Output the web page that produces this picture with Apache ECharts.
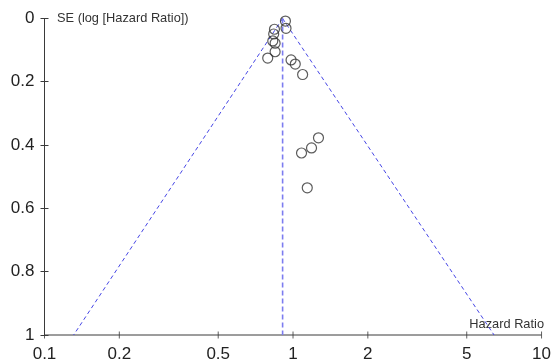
<!DOCTYPE html>
<html>
<head>
<meta charset="utf-8">
<script src="https://cdn.jsdelivr.net/npm/echarts@6/dist/echarts.min.js"></script>
<style>
html,body{margin:0;padding:0;background:#fff;}
#chart{width:554px;height:363px;}
</style>
</head>
<body>
<div id="chart"></div>
<script>
// Study-level data: hazard ratio and SE of log hazard ratio
const hazardRatio = [0.932, 0.937, 0.842, 0.836, 0.829, 0.847, 0.847, 0.791, 0.982, 1.021, 1.093, 1.266, 1.187, 1.082, 1.141];
const seLogHR     = [0.008, 0.031, 0.034, 0.049, 0.071, 0.078, 0.105, 0.125, 0.131, 0.144, 0.177, 0.377, 0.409, 0.425, 0.535];

// Pooled estimate and funnel (pseudo 95% CI) limits
const pooledHR = [0.908, 0.908];
const funnelSE = [0, 1];
const funnelLower = [0.908, 0.131];
const funnelUpper = [0.908, 6.44];

// Tick labels
const xTicks = [0.1, 0.2, 0.5, 1, 2, 5, 10];
const yTicks = [0, 0.2, 0.4, 0.6, 0.8, 1];
const xRange = [0.1, 10];
const yRange = [0, 1];

const axisColor = '#3a3a3a';
const labelColor = '#222';
const fontFam = 'Liberation Sans, Arial, sans-serif';

const chart = echarts.init(document.getElementById('chart'), null, {renderer: 'canvas'});

function pairs(xs, ys) { return xs.map((x, i) => [x, ys[i]]); }

const gridLeft = 44.5;

chart.setOption({
  animation: false,
  backgroundColor: '#fff',
  grid: {left: gridLeft, right: 10.5, top: 18.5, bottom: 26.5, containLabel: false},
  xAxis: {
    type: 'log', logBase: 10, min: xRange[0], max: xRange[1], position: 'bottom',
    splitLine: {show: false}, minorTick: {show: false},
    axisLine: {show: false},
    axisTick: {show: false},
    axisLabel: {show: true, customValues: xTicks, color: labelColor, fontSize: 17, fontFamily: fontFam, margin: 11,
      formatter: v => String(v)}
  },
  yAxis: {
    type: 'value', min: yRange[0], max: yRange[1], interval: 0.2, inverse: true, position: 'left',
    splitLine: {show: false},
    axisLine: {show: false},
    axisTick: {show: false},
    axisLabel: {show: true, color: labelColor, fontSize: 17, fontFamily: fontFam, margin: 10,
      formatter: v => String(+(+v).toFixed(1))}
  },
  series: [
    // x axis line
    {type: 'line', data: [[xRange[0], yRange[1]], [xRange[1], yRange[1]]], symbol: 'none', clip: false, silent: true,
      lineStyle: {color: axisColor, width: 1}, z: 1},
    // crossing x tick marks
    {type: 'scatter', data: xTicks.map(v => [v, yRange[1]]), symbol: 'rect', symbolSize: [1, 7], clip: false, silent: true,
      itemStyle: {color: axisColor}, z: 1},
    // funnel
    {type: 'line', data: pairs(funnelLower, funnelSE), symbol: 'none', clip: false,
      lineStyle: {color: '#4646e6', width: 1, type: [4, 3]}, silent: true, z: 2},
    {type: 'line', data: pairs(funnelUpper, funnelSE), symbol: 'none', clip: false,
      lineStyle: {color: '#4646e6', width: 1, type: [4, 3]}, silent: true, z: 2},
    {type: 'line', data: pairs(pooledHR, funnelSE), symbol: 'none', clip: false,
      lineStyle: {color: '#7c7cf0', width: 1.6, type: [5, 3]}, silent: true, z: 2},
    // studies
    {type: 'scatter', data: pairs(hazardRatio, seLogHR), symbol: 'circle', symbolSize: 10, clip: false,
      itemStyle: {color: 'rgba(0,0,0,0)', borderColor: '#333', borderWidth: 1.2}, z: 3}
  ]
});

// y axis line and crossing ticks, positioned through the chart's own scales
let ax = chart.convertToPixel({xAxisIndex: 0}, xRange[0]);
if (!isFinite(ax)) ax = gridLeft;
ax = Math.round(ax - 0.5) + 0.5;
let yTop = chart.convertToPixel({yAxisIndex: 0}, yRange[0]);
let yBot = chart.convertToPixel({yAxisIndex: 0}, yRange[1]);
if (!isFinite(yTop)) yTop = 18.5;
if (!isFinite(yBot)) yBot = 336.5;
const graphics = [
  {type: 'rect', shape: {x: ax - 0.5, y: Math.min(yTop, yBot), width: 1, height: Math.abs(yBot - yTop)},
    style: {fill: axisColor}, z: 10},
  {type: 'text', left: 57, top: 12, style: {text: 'SE (log [Hazard Ratio])', fill: '#333', font: '12.8px ' + fontFam}},
  {type: 'text', right: 10, top: 318, style: {text: 'Hazard Ratio', fill: '#333', font: '12.8px ' + fontFam}}
];
yTicks.forEach(v => {
  const py = Math.round(chart.convertToPixel({yAxisIndex: 0}, v) - 0.5) + 0.5;
  graphics.push({type: 'line', shape: {x1: ax - 4, y1: py, x2: ax + 4, y2: py}, style: {stroke: axisColor, lineWidth: 1}, z: 10});
});
chart.setOption({graphic: graphics});
</script>
</body>
</html>
